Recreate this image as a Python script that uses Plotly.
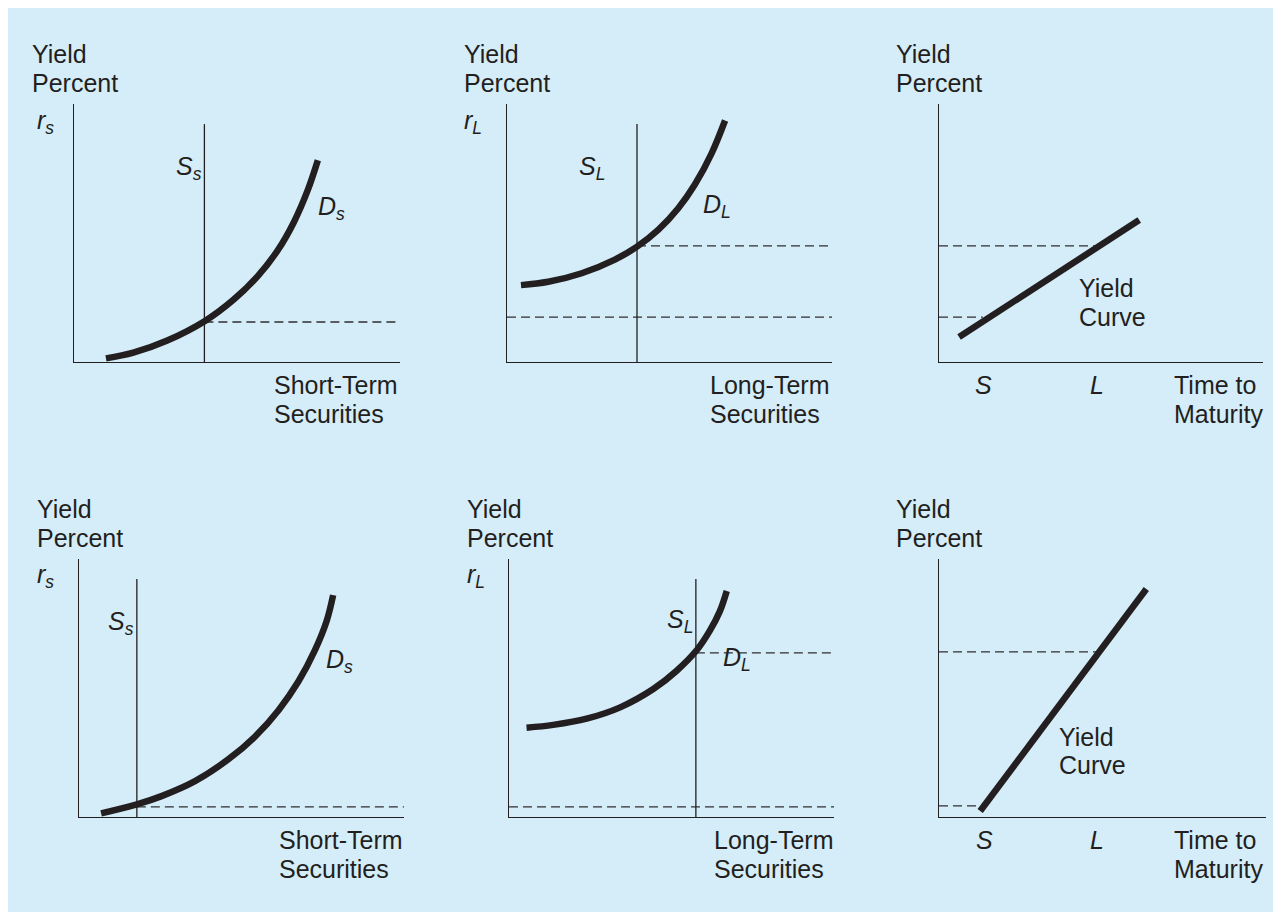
import plotly.graph_objects as go

# page body adds an 8px margin; the figure fills the rest of the 1281x912 window
OFF = 8
W, H = 1281 - OFF, 912 - OFF
BG = "#d5edf9"
INK = "#231f20"
DASH_INK = "#2e2e2e"
FONT = "Liberation Sans, Arial, Helvetica, sans-serif"
FS = 25

# ---------------- data (arbitrary units; both axes run 0-10) ----------------
# Top row: upward-sloping yield curve
st1_demand_q = [0.98, 1.82, 2.86, 4.03, 4.89, 5.63, 6.25, 6.74, 7.17, 7.48]
st1_demand_r = [0.14, 0.36, 0.83, 1.60, 2.41, 3.32, 4.33, 5.41, 6.66, 7.82]
st1_supply_q = 4.0
st1_rate = 1.55

lt1_demand_q = [0.43, 1.27, 2.30, 3.32, 3.99, 4.66, 5.27, 5.78, 6.30, 6.71]
lt1_demand_r = [2.98, 3.11, 3.44, 3.97, 4.46, 5.13, 5.96, 6.88, 8.10, 9.36]
lt1_supply_q = 4.0
lt1_rate = 4.5
lt1_short_rate = 1.74

yc1_maturity = [0.62, 6.18]
yc1_yield = [0.97, 5.50]
yc1_s, yc1_l = 1.35, 4.86
yc1_rs, yc1_rl = 1.74, 4.5

# Bottom row: steeper yield curve
st2_demand_q = [0.68, 1.78, 2.54, 3.57, 4.58, 5.42, 6.14, 6.75, 7.26, 7.62, 7.82]
st2_demand_r = [0.14, 0.49, 0.81, 1.39, 2.22, 3.12, 4.14, 5.25, 6.47, 7.60, 8.60]
st2_supply_q = 1.78
st2_rate = 0.39

lt2_demand_q = [0.54, 1.36, 2.39, 3.42, 4.44, 5.16, 5.78, 6.18, 6.49, 6.70]
lt2_demand_r = [3.46, 3.57, 3.81, 4.25, 4.96, 5.67, 6.47, 7.22, 7.98, 8.76]
lt2_supply_q = 5.75
lt2_rate = 6.36
lt2_short_rate = 0.39

yc2_maturity = [1.26, 6.34]
yc2_yield = [0.23, 8.84]
yc2_s, yc2_l = 1.3, 4.82
yc2_rs, yc2_rl = 0.43, 6.4

supply_top = 9.22
x_max = 10
y_max = 10


def fx(px):
    return (px - OFF) / W


def fy(py):
    return 1 - (py - OFF) / H


# ---------------- layout helpers ----------------
# panel plot boxes in window pixels: (left, top, right, bottom)
boxes = [
    (74, 104, 400, 362),
    (507, 104, 832, 362),
    (939, 104, 1263, 362),
    (79, 559, 404, 817),
    (509, 559, 834, 817),
    (939, 559, 1266, 817),
]

fig = go.Figure()
layout_axes = {}
for i, (l, t, r, b) in enumerate(boxes, start=1):
    sfx = "" if i == 1 else str(i)
    common = dict(showgrid=False, zeroline=False, showticklabels=False,
                  ticks="", showline=True, linecolor=INK, linewidth=1.4,
                  fixedrange=True)
    layout_axes["xaxis" + sfx] = dict(domain=[fx(l), fx(r)], range=[0, x_max],
                                     anchor="y" + sfx, **common)
    layout_axes["yaxis" + sfx] = dict(domain=[fy(b), fy(t)], range=[0, y_max],
                                     anchor="x" + sfx, **common)


def ax(i):
    return ("x" if i == 1 else "x%d" % i), ("y" if i == 1 else "y%d" % i)


def curve(i, xs, ys, spline=True):
    xa, ya = ax(i)
    fig.add_trace(go.Scatter(x=xs, y=ys, mode="lines", xaxis=xa, yaxis=ya,
                             line=dict(color=INK, width=6.5,
                                       shape="spline" if spline else "linear",
                                       smoothing=1.0),
                             hoverinfo="skip", showlegend=False))


def vline(i, q, top):
    xa, ya = ax(i)
    fig.add_trace(go.Scatter(x=[q, q], y=[0, top], mode="lines", xaxis=xa, yaxis=ya,
                             line=dict(color=INK, width=1.3),
                             hoverinfo="skip", showlegend=False))


def dline(i, x0, x1, r):
    xa, ya = ax(i)
    fig.add_trace(go.Scatter(x=[x0, x1], y=[r, r], mode="lines", xaxis=xa, yaxis=ya,
                             line=dict(color=DASH_INK, width=1.3, dash="9px,5px"),
                             hoverinfo="skip", showlegend=False))


annotations = []


def label(text, px, py, xanchor="left", size=FS):
    annotations.append(dict(text=text, x=fx(px), y=fy(py), xref="paper", yref="paper",
                            xanchor=xanchor, yanchor="middle", showarrow=False,
                            font=dict(family=FONT, size=size, color=INK)))


# ---------------- panel 1 ----------------
dline(1, st1_supply_q, x_max, st1_rate)
vline(1, st1_supply_q, supply_top)
curve(1, st1_demand_q, st1_demand_r)
# ---------------- panel 2 ----------------
dline(2, lt1_supply_q, x_max, lt1_rate)
dline(2, 0, x_max, lt1_short_rate)
vline(2, lt1_supply_q, supply_top)
curve(2, lt1_demand_q, lt1_demand_r)
# ---------------- panel 3 ----------------
dline(3, 0, yc1_l, yc1_rl)
dline(3, 0, yc1_s, yc1_rs)
curve(3, yc1_maturity, yc1_yield, spline=False)
# ---------------- panel 4 ----------------
dline(4, st2_supply_q, x_max, st2_rate)
vline(4, st2_supply_q, supply_top)
curve(4, st2_demand_q, st2_demand_r)
# ---------------- panel 5 ----------------
dline(5, lt2_supply_q, x_max, lt2_rate)
dline(5, 0, x_max, lt2_short_rate)
vline(5, lt2_supply_q, supply_top)
curve(5, lt2_demand_q, lt2_demand_r)
# ---------------- panel 6 ----------------
dline(6, 0, yc2_l, yc2_rl)
dline(6, 0, yc2_s, yc2_rs)
curve(6, yc2_maturity, yc2_yield, spline=False)

# ---------------- text ----------------
for x, y0 in [(30, 54), (462, 54), (894, 54), (35, 509), (465, 509), (894, 509)]:
    label("Yield", x, y0)
    label("Percent", x, y0 + 29)

label("<i>r</i><sub><i>s</i></sub>", 35, 122)
label("<i>r</i><sub><i>L</i></sub>", 462, 122)
label("<i>r</i><sub><i>s</i></sub>", 35, 576)
label("<i>r</i><sub><i>L</i></sub>", 465, 576)

label("<i>S</i><sub><i>s</i></sub>", 174, 168)
label("<i>D</i><sub><i>s</i></sub>", 316, 208)
label("<i>S</i><sub><i>L</i></sub>", 577, 168)
label("<i>D</i><sub><i>L</i></sub>", 701, 206)
label("<i>S</i><sub><i>s</i></sub>", 106, 623)
label("<i>D</i><sub><i>s</i></sub>", 324, 661)
label("<i>S</i><sub><i>L</i></sub>", 665, 621)
label("<i>D</i><sub><i>L</i></sub>", 721, 659)

for x, y0, l1, l2 in [(272, 385, "Short-Term", "Securities"),
                      (708, 385, "Long-Term", "Securities"),
                      (1172, 385, "Time to", "Maturity"),
                      (277, 840, "Short-Term", "Securities"),
                      (712, 840, "Long-Term", "Securities"),
                      (1172, 840, "Time to", "Maturity")]:
    label(l1, x, y0)
    label(l2, x, y0 + 29)

label("Yield", 1077, 288)
label("Curve", 1077, 317)
label("Yield", 1057, 737)
label("Curve", 1057, 765)

label("<i>S</i>", 983, 385, xanchor="center")
label("<i>L</i>", 1097, 385, xanchor="center")
label("<i>S</i>", 984, 840, xanchor="center")
label("<i>L</i>", 1097, 840, xanchor="center")

fig.update_layout(
    width=W, height=H,
    margin=dict(l=0, r=0, t=0, b=0),
    paper_bgcolor=BG,
    plot_bgcolor="rgba(0,0,0,0)",
    showlegend=False,
    font=dict(family=FONT, color=INK),
    annotations=annotations,
    **layout_axes,
)

fig.write_html("out.html", config={"displayModeBar": False})
